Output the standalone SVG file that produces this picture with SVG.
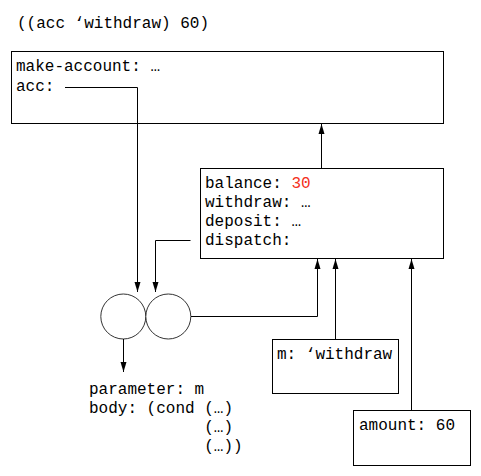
<svg xmlns="http://www.w3.org/2000/svg" width="481" height="476" viewBox="0 0 481 476">
<style>
text{font-family:"Liberation Mono","Courier New",monospace;font-size:16px;fill:#000}
.box{fill:#fff;stroke:#000;stroke-width:1}
.circ{fill:#fff;stroke:#333;stroke-width:1}
.conn{fill:none;stroke:#000;stroke-width:1}
.red{fill:#f4301c}
</style>
<defs>
<marker id="arr" markerWidth="10" markerHeight="8" refX="10" refY="4" orient="auto" markerUnits="userSpaceOnUse">
<path d="M0,1 L10,4 L0,7 z" fill="#000"/>
</marker>
</defs>
<rect width="481" height="476" fill="#fff"/>
<g id="expr"><text x="17" y="28">((acc ‘withdraw) 60)</text></g>
<g id="global-env">
<rect class="box" x="11.5" y="51.5" width="432" height="72"/>
<text x="16" y="71">make-account: …</text>
<text x="16" y="90.5">acc:</text>
</g>
<g id="account-env">
<rect class="box" x="200.5" y="168.5" width="243" height="90"/>
<text x="205" y="188">balance: <tspan class="red">30</tspan></text>
<text x="205" y="207">withdraw: …</text>
<text x="205" y="226">deposit: …</text>
<text x="205" y="245">dispatch:</text>
</g>
<g id="procedure">
<circle class="circ" cx="123.3" cy="316.5" r="22.5"/>
<circle class="circ" cx="168.3" cy="316.5" r="22.5"/>
</g>
<g id="procedure-text">
<text x="89" y="394">parameter: m</text>
<text x="89" y="413">body: (cond (…)</text>
<text x="89" y="432" xml:space="preserve">            (…)</text>
<text x="89" y="451" xml:space="preserve">            (…))</text>
</g>
<g id="m-env">
<rect class="box" x="272.5" y="339.5" width="126" height="54"/>
<text x="277" y="358.5">m: ‘withdraw</text>
</g>
<g id="amount-env">
<rect class="box" x="353.5" y="410.5" width="117" height="55"/>
<text x="359" y="430">amount: 60</text>
</g>
<g id="connectors">
<path class="conn" d="M65,87.5 H137.5 V292" marker-end="url(#arr)"/>
<path class="conn" d="M190.5,240.5 H155.5 V292" marker-end="url(#arr)"/>
<path class="conn" d="M191,316.5 H317.5 V259" marker-end="url(#arr)"/>
<path class="conn" d="M321.5,168.5 V124" marker-end="url(#arr)"/>
<path class="conn" d="M335.5,339.5 V259" marker-end="url(#arr)"/>
<path class="conn" d="M411.5,410.5 V259" marker-end="url(#arr)"/>
<path class="conn" d="M123.5,339 V372" marker-end="url(#arr)"/>
</g>
</svg>
